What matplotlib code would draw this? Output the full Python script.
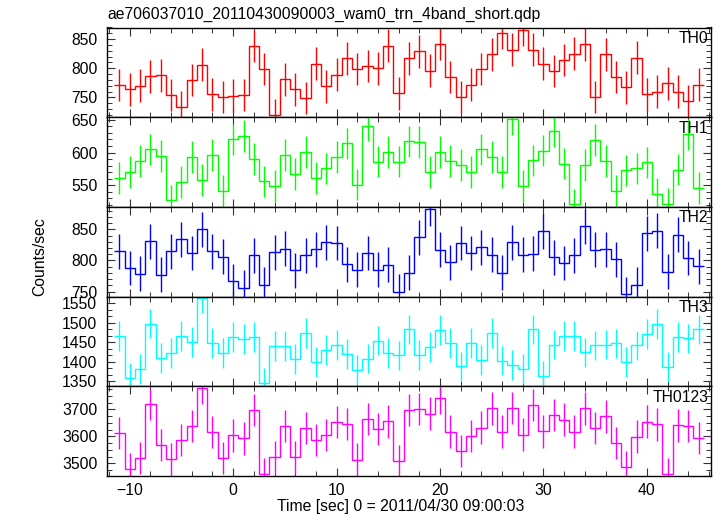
import numpy as np
import matplotlib
matplotlib.use("Agg")
import matplotlib.pyplot as plt
from matplotlib.ticker import MultipleLocator

plt.rcParams["font.family"] = ["Liberation Sans", "DejaVu Sans"]

title = "ae706037010_20110430090003_wam0_trn_4band_short.qdp"
xlabel = "Time [sec] 0 = 2011/04/30 09:00:03"
ylabel = "Counts/sec"

# 1-s bins centred on integer seconds
time = np.arange(-11, 46)

th0 = [771, 764, 770, 786, 788, 754, 733, 780, 806, 755, 751, 753, 754, 838, 799,
       719, 781, 764, 749, 808, 769, 789, 817, 799, 804, 800, 839, 757, 817,
       829, 796, 842, 785, 751, 772, 799, 824, 861, 832, 866, 832, 808, 795,
       814, 825, 841, 751, 824, 785, 767, 818, 755, 760, 774, 760, 743, 772]
th1 = [561, 570, 587, 605, 595, 527, 555, 593, 558, 596, 541, 620, 625, 590, 556,
       549, 596, 567, 601, 561, 576, 593, 614, 551, 641, 586, 601, 586, 617,
       616, 570, 601, 587, 581, 570, 605, 593, 570, 651, 549, 588, 603, 633,
       583, 521, 581, 619, 587, 541, 573, 576, 585, 537, 522, 574, 628, 546]
th2 = [815, 788, 779, 831, 777, 815, 834, 812, 850, 815, 806, 767, 756, 808, 761,
       813, 819, 784, 808, 818, 829, 828, 794, 785, 812, 785, 793, 750, 780,
       837, 883, 817, 797, 828, 812, 821, 809, 780, 829, 809, 811, 847, 805,
       796, 808, 855, 817, 818, 802, 746, 761, 844, 848, 782, 841, 804, 791]
th3 = [1466, 1358, 1381, 1498, 1410, 1422, 1466, 1451, 1564, 1448, 1422, 1463,
       1459, 1463, 1346, 1440, 1440, 1407, 1473, 1399, 1430, 1443, 1419, 1379,
       1408, 1454, 1422, 1416, 1483,
       1417, 1437, 1481, 1448, 1388, 1448, 1404, 1474, 1403, 1392, 1382, 1483,
       1363, 1444, 1466, 1466, 1424, 1442, 1444, 1447, 1399, 1442, 1471, 1496,
       1386, 1464, 1460, 1483]
th0123 = [3612, 3478, 3519, 3720, 3568, 3515, 3586, 3638, 3779, 3616, 3520, 3603,
          3592, 3698, 3460, 3522, 3637, 3522, 3631, 3586, 3604, 3653, 3645, 3514,
          3664, 3626, 3655, 3507, 3698,
          3700, 3684, 3742, 3617, 3546, 3601, 3632, 3703, 3617, 3705, 3606, 3716,
          3618, 3679, 3662, 3617, 3703, 3631, 3674, 3576, 3485, 3599, 3654, 3644,
          3460, 3640, 3638, 3593]

bands = ["TH0", "TH1", "TH2", "TH3", "TH0123"]
rates = [th0, th1, th2, th3, th0123]
errors = [28, 24, 28, 38, 60]          # typical 1-sigma bar half-length per band
colors = ["#ff0000", "#00ff00", "#0000ff", "#00ffff", "#ff00ff"]
ylims = [(716, 870), (517, 654), (742, 886), (1337, 1567), (3453, 3785)]
ymajor = [50, 50, 50, 50, 100]
yminor = [10, 10, 10, 50 / 3, 25]

W, H = 717, 516
fs = 11.3
fig, axes = plt.subplots(5, 1, sharex=True, figsize=(W / 100, H / 100), dpi=100)
fig.subplots_adjust(left=107 / W, right=711 / W, top=1 - 27.5 / H,
                    bottom=1 - 476 / H, hspace=0)

edges = np.append(time - 0.5, time[-1] + 0.5)
for i, ax in enumerate(axes):
    y = np.array(rates[i])
    ax.stairs(y, edges, color=colors[i], linewidth=1.0, baseline=None)
    ax.errorbar(time, y, yerr=errors[i], fmt="none", ecolor=colors[i],
                elinewidth=1.0, capsize=0)
    ax.set_ylim(*ylims[i])
    ax.yaxis.set_major_locator(MultipleLocator(ymajor[i]))
    ax.yaxis.set_minor_locator(MultipleLocator(yminor[i]))
    ax.text(0.996, 0.96, bands[i], transform=ax.transAxes, ha="right",
            va="top", fontsize=fs)
    ax.tick_params(which="both", direction="in", top=True, right=True,
                   labelsize=fs, pad=7, color="#333333")
    ax.tick_params(which="major", length=6, width=0.8)
    ax.tick_params(which="minor", length=3.5, width=0.7)
    for sp in ax.spines.values():
        sp.set_linewidth(1.0)

axes[-1].set_xlim(-12.2, 46.2)
axes[-1].xaxis.set_major_locator(MultipleLocator(10))
axes[-1].xaxis.set_minor_locator(MultipleLocator(2))
axes[-1].tick_params(axis="x", pad=5)

fig.text(107 / W, 1 - 14 / H, title, ha="left", va="center", fontsize=fs)
fig.text(401 / W, 1 - 507 / H, xlabel, ha="center", va="center", fontsize=fs)
fig.text(40 / W, 1 - 257 / H, ylabel, ha="center", va="center",
         rotation=90, fontsize=fs)

fig.savefig("out.png", dpi=100, facecolor="white")
